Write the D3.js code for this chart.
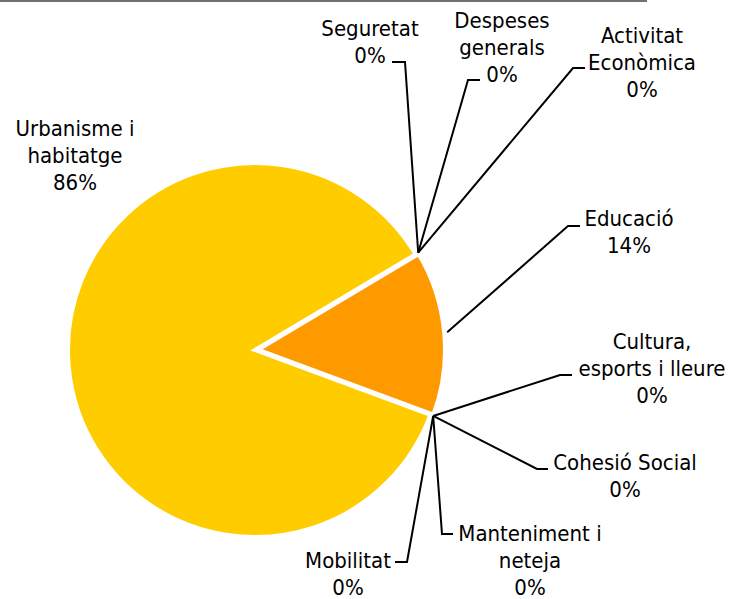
<!DOCTYPE html>
<html>
<head>
<meta charset="utf-8">
<script src="https://cdn.jsdelivr.net/npm/d3@7"></script>
<style>
  body { margin: 0; background: #fff; }
  svg { display: block; }
  text { font-family: "DejaVu Sans Condensed", "DejaVu Sans", sans-serif; font-size: 22px; fill: #000; }
</style>
</head>
<body>
<svg width="729" height="599"></svg>
<script>
// data, in the order the slices are drawn (clockwise)
var categories = ["Educació", "Cultura, esports i lleure", "Cohesió Social", "Manteniment i neteja",
                  "Mobilitat", "Urbanisme i habitatge", "Seguretat", "Despeses generals", "Activitat Econòmica"];
var values = [14.2, 0, 0, 0, 0, 85.8, 0, 0, 0];
var labelLines = [["Educació"], ["Cultura,", "esports i lleure"], ["Cohesió Social"], ["Manteniment i", "neteja"],
                  ["Mobilitat"], ["Urbanisme i", "habitatge"], ["Seguretat"], ["Despeses", "generals"], ["Activitat", "Econòmica"]];
var colors = ["#FF9900", "#FFCC00", "#FFCC00", "#FFCC00", "#FFCC00", "#FFCC00", "#FFCC00", "#FFCC00", "#FFCC00"];

// label layout: centre x, first baseline, leader elbow and end
var labelPos = [
  {x: 629, y: 226, elbow: [568, 226], end: [580, 226]},
  {x: 652, y: 349, elbow: [560, 375], end: [572, 375]},
  {x: 625, y: 470, elbow: [537, 469], end: [548, 469]},
  {x: 530, y: 541, elbow: [442, 534], end: [453, 534]},
  {x: 348, y: 568, elbow: [407, 562], end: [395, 562]},
  {x: 75,  y: 136, elbow: null},
  {x: 370, y: 36,  elbow: [405, 62], end: [392, 62]},
  {x: 502, y: 28,  elbow: [468, 80], end: [480, 80]},
  {x: 642, y: 43,  elbow: [573, 68], end: [585, 68]}
];

var svg = d3.select("svg");
var cx = 255, cy = 350, radius = 187, explode = 3, lineH = 27.2;
var total = d3.sum(values);

// thin rule across the top
svg.append("line")
  .attr("x1", 0).attr("x2", 647).attr("y1", 1).attr("y2", 1)
  .attr("stroke", "#404040").attr("stroke-width", 1.5);

var pie = d3.pie().sort(null).value(function(d) { return d; })
  .startAngle(59.2 * Math.PI / 180)
  .endAngle(59.2 * Math.PI / 180 + 2 * Math.PI);
var arcs = pie(values);

var arc = d3.arc().innerRadius(0).outerRadius(radius);
var anchorArc = d3.arc().innerRadius(radius + 3).outerRadius(radius + 3);

var g = svg.append("g").attr("transform", "translate(" + cx + "," + cy + ")");

function offset(d, i) {
  if (i !== 0) return [0, 0];
  var a = (d.startAngle + d.endAngle) / 2;
  return [explode * Math.sin(a), -explode * Math.cos(a)];
}

g.selectAll("path.slice")
  .data(arcs.filter(function(d) { return d.value > 0; }).reverse())
  .enter().append("path")
  .attr("class", "slice")
  .attr("d", arc)
  .attr("fill", function(d) { return colors[d.index]; })
  .attr("stroke", "#fff")
  .attr("stroke-width", 4)
  .attr("stroke-linejoin", "miter")
  .attr("transform", function(d) { var o = offset(d, d.index); return "translate(" + o[0] + "," + o[1] + ")"; });

// leader lines
arcs.forEach(function(d, i) {
  var p = labelPos[i];
  if (!p.elbow) return;
  var c = anchorArc.centroid(d);
  var o = offset(d, i);
  var pts = [[c[0] + o[0] + cx, c[1] + o[1] + cy], p.elbow, p.end];
  svg.append("path")
    .attr("d", d3.line()(pts))
    .attr("fill", "none")
    .attr("stroke", "#000")
    .attr("stroke-width", 2);
});

// labels
arcs.forEach(function(d, i) {
  var p = labelPos[i];
  var lines = labelLines[i].concat([Math.round(d.value / total * 100) + "%"]);
  var t = svg.append("text").attr("text-anchor", "middle");
  lines.forEach(function(s, k) {
    t.append("tspan").attr("x", p.x).attr("y", p.y + k * lineH).text(s);
  });
});
</script>
</body>
</html>
